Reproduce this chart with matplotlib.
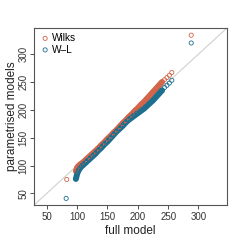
import numpy as np
import matplotlib
matplotlib.use('Agg')
import matplotlib.pyplot as plt

plt.rcParams['font.family'] = ['Liberation Sans', 'DejaVu Sans']

# Wilks quantiles (full model vs parametrised)
wilks_x = [98, 99, 100, 102, 105, 110, 115, 120, 125, 130, 135, 140, 145, 150, 155, 160,
           165, 170, 175, 180, 185, 190, 195, 200, 205, 210, 215, 220, 225, 230, 235, 240]
wilks_y = [90, 93, 96, 99, 102, 106, 111, 116, 121, 126, 131, 137, 142, 148, 153, 159,
           164, 170, 176, 181, 187, 192, 198, 203, 209, 214, 220, 226, 232, 238, 244, 250]
wilks_sx = [83, 244, 248, 252, 256, 288]
wilks_sy = [75, 254, 258, 262, 267, 334]

# W-L quantiles
wl_x = [98, 99, 100, 102, 104, 107, 110, 115, 120, 125, 130, 135, 140, 145, 150, 155, 160,
        165, 170, 175, 180, 185, 190, 195, 200, 205, 210, 215, 220, 225, 230, 235, 240]
wl_y = [76, 80, 85, 90, 94, 98, 101, 106, 111, 116, 121, 127, 132, 138, 143, 149, 155,
        161, 166, 171, 177, 182, 186, 190, 194, 198, 202, 207, 212, 217, 223, 229, 235]
wl_sx = [82, 244, 248, 252, 256, 288]
wl_sy = [41, 240, 244, 248, 253, 320]

red = '#d2654a'
blue = '#1c6f8f'

fig = plt.figure(figsize=(2.41, 2.41), dpi=100)
ax = fig.add_axes([0.141, 0.149, 0.801, 0.735])

lim = (29, 347)
ax.plot(lim, lim, color='#d0d0d0', lw=0.8, zorder=1)

ax.plot(wilks_x, wilks_y, color=red, lw=4.3, solid_capstyle='round', zorder=2)
ax.scatter(wilks_x + wilks_sx, wilks_y + wilks_sy, s=9, facecolors='none',
           edgecolors=red, linewidths=0.6, zorder=3, label='Wilks')
ax.plot(wl_x, wl_y, color=blue, lw=4.3, solid_capstyle='round', zorder=2)
ax.scatter(wl_x + wl_sx, wl_y + wl_sy, s=9, facecolors='none',
           edgecolors=blue, linewidths=0.6, zorder=3, label='W–L')

ax.set_xlim(lim)
ax.set_ylim(lim)
ticks = [50, 100, 150, 200, 250, 300]
ax.set_xticks(ticks)
ax.set_yticks(ticks)
ax.tick_params(direction='out', length=3, width=0.6, labelsize=7, colors='#333333', pad=2)
ax.tick_params(axis='y', pad=1)
for t in ax.get_yticklabels():
    t.set_rotation(90)
    t.set_va('center')
for s in ax.spines.values():
    s.set_color('#555555')
    s.set_linewidth(0.8)

ax.set_xlabel('full model', fontsize=8.5, labelpad=2, color='#222222')
ax.set_ylabel('parametrised models', fontsize=8.5, labelpad=0, color='#222222')

ax.legend(loc='upper left', frameon=False, fontsize=7.3, handletextpad=0.1,
          borderaxespad=0.1, labelspacing=0.15, handlelength=1.2,
          markerscale=1.0)

fig.savefig('out.png', dpi=100)
